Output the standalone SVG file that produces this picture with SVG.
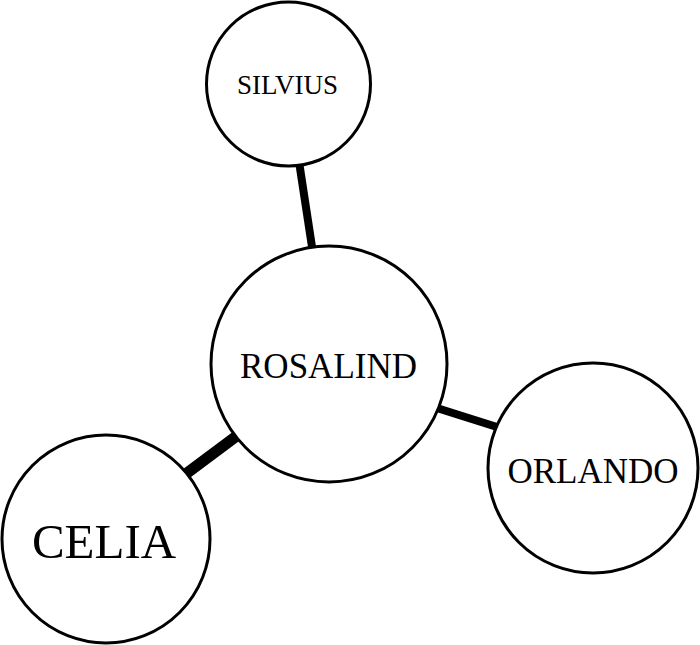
<svg xmlns="http://www.w3.org/2000/svg" width="700" height="645" viewBox="0 0 700 645">
<style>
.node circle{fill:#fff;stroke:#000;stroke-width:3}
.node text{font-family:"Liberation Serif","Times New Roman",serif;fill:#000;text-anchor:middle}
.edge{stroke:#000;stroke-linecap:butt}
</style>
<rect width="700" height="645" fill="#fff"/>
<g id="connectors">
<line class="edge" x1="298" y1="155" x2="313.2" y2="254.6" stroke-width="8"/>
<line class="edge" x1="179" y1="479" x2="242" y2="432" stroke-width="11"/>
<line class="edge" x1="430.5" y1="406" x2="506.5" y2="430" stroke-width="8"/>
</g>
<g id="silvius" class="node">
<circle cx="288.5" cy="84" r="82"/>
<text x="287.5" y="94" font-size="27">SILVIUS</text>
</g>
<g id="rosalind" class="node">
<circle cx="329" cy="364" r="118"/>
<text x="328.5" y="378" font-size="35">ROSALIND</text>
</g>
<g id="orlando" class="node">
<circle cx="593" cy="468" r="105"/>
<text x="593" y="483" font-size="35">ORLANDO</text>
</g>
<g id="celia" class="node">
<circle cx="106" cy="539" r="104"/>
<text x="104" y="558" font-size="49">CELIA</text>
</g>
</svg>
